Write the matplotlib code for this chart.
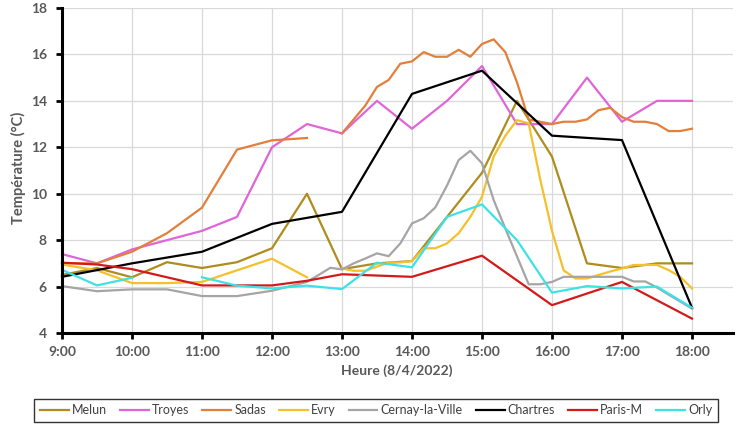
import numpy as np
import matplotlib
matplotlib.use("Agg")
import matplotlib.pyplot as plt

plt.rcParams['font.family'] = ['Lato', 'DejaVu Sans']

def hrs(lst):
    out = []
    for s in lst:
        h, m = s.split(':')
        out.append(int(h) + int(m) / 60.0)
    return np.array(out)

def t10(start, end):
    # list of "H:MM" strings every 10 minutes, inclusive
    res = []
    sh, sm = map(int, start.split(':'))
    eh, em = map(int, end.split(':'))
    a, b = sh * 60 + sm, eh * 60 + em
    for m in range(a, b + 1, 10):
        res.append(f"{m // 60}:{m % 60:02d}")
    return res

half = ["9:00", "9:30", "10:00", "10:30", "11:00", "11:30", "12:00", "12:30", "13:00",
        "13:30", "14:00", "14:30", "15:00", "15:30", "16:00", "16:30", "17:00", "17:30", "18:00"]
hourly = ["9:00", "10:00", "11:00", "12:00", "13:00", "14:00", "15:00", "16:00", "17:00", "18:00"]

# ---- Data ----
melun_t = half
melun_v = [6.5, 6.8, 6.4, 7.05, 6.8, 7.05, 7.65, 10.0, 6.75, 7.0, 7.1, 9.0, 10.9, 14.0,
           11.6, 7.0, 6.8, 7.0, 7.0]

troyes_t = half
troyes_v = [7.4, 7.0, 7.6, 8.0, 8.4, 9.0, 12.0, 13.0, 12.6, 14.0, 12.8, 14.0, 15.5, 13.0,
            13.0, 15.0, 13.1, 14.0, 14.0]

sadas_t = ["9:00", "9:30", "10:00", "10:30", "11:00", "11:30", "12:00", "12:30", "12:45"] + t10("13:00", "18:00")
sadas_v = [7.0, 7.0, 7.5, 8.3, 9.4, 11.9, 12.3, 12.4, np.nan,
           12.6, 13.2, 13.8, 14.6, 14.9, 15.6, 15.7, 16.1, 15.9, 15.9, 16.2, 15.9, 16.45,
           16.65, 16.1, 14.8, 13.2, 13.1, 13.0, 13.1, 13.1, 13.2, 13.6, 13.7, 13.3, 13.1,
           13.1, 13.0, 12.7, 12.7, 12.8]

evry_t = ["9:00", "9:30", "10:00", "10:30", "11:00", "12:00", "12:30", "12:45"] + t10("13:00", "18:00")
evry_v = [6.95, 6.7, 6.15, 6.15, 6.2, 7.2, 6.4, np.nan,
          6.78, 6.68, 6.68, 6.86, 7.03, 7.04, 7.1, 7.65, 7.65, 7.86, 8.3, 9.0, 9.87,
          11.6, 12.5, 13.17, 13.03, 10.6, 8.4, 6.7, 6.35, 6.35, 6.5, 6.65, 6.78, 6.93,
          6.93, 6.93, 6.71, 6.42, 5.92]

cernay_t = ["9:00", "9:30", "10:00", "10:30", "11:00", "11:30", "12:00", "12:30"] + t10("12:40", "18:00")
cernay_v = [6.02, 5.8, 5.88, 5.88, 5.59, 5.59, 5.82, 6.2,
            6.5, 6.81, 6.74, 7.0, 7.21, 7.43, 7.31, 7.86, 8.72, 8.94, 9.41, 10.35, 11.45,
            11.85, 11.31, 9.73, 8.5, 7.3, 6.1, 6.1, 6.2, 6.42, 6.42, 6.42, 6.42, 6.42, 6.42,
            6.22, 6.22, 5.96, 5.65, 5.35, 5.05]

chartres_t = hourly
chartres_v = [6.42, 7.0, 7.5, 8.7, 9.22, 14.3, 15.3, 12.5, 12.31, 5.09]

paris_t = ["9:00", "9:30", "10:00", "11:00", "12:00", "12:30", "13:00", "14:00", "15:00",
           "16:00", "17:00", "18:00"]
paris_v = [7.03, 6.95, 6.75, 6.05, 6.05, 6.25, 6.53, 6.42, 7.33, 5.2, 6.2, 4.62]

orly_t = ["9:00", "9:30", "10:00", "10:30", "11:00", "11:30", "12:00", "12:30", "13:00",
          "13:30", "14:00", "14:30", "15:00", "15:30", "16:00", "16:30", "17:00", "17:30", "18:00"]
orly_v = [6.72, 6.05, 6.38, np.nan, 6.4, 6.04, 5.92, 6.04, 5.89, 7.03, 6.83, 9.0, 9.54,
          8.0, 5.74, 6.02, 5.92, 6.0, 5.09]

names = ["Melun", "Troyes", "Sadas", "Evry", "Cernay-la-Ville", "Chartres", "Paris-M", "Orly"]
series = [(melun_t, melun_v), (troyes_t, troyes_v), (sadas_t, sadas_v), (evry_t, evry_v),
          (cernay_t, cernay_v), (chartres_t, chartres_v), (paris_t, paris_v), (orly_t, orly_v)]
colors = ["#AE8C1E", "#E065D8", "#E27F3A", "#F4C02C", "#A5A5A5", "#000000", "#D21A1A", "#3EE2E6"]

xtick_hours = hourly
ytick_vals = [4, 6, 8, 10, 12, 14, 16, 18]

# ---- Plot ----
fig = plt.figure(figsize=(7.51, 4.29), dpi=100)
ax = fig.add_axes([62 / 751, 1 - 333 / 429, (733 - 62) / 751, (333 - 8) / 429])

for (t, v), name, c in zip(series, names, colors):
    ax.plot(hrs(t), v, color=c, lw=1.6, label=name, solid_joinstyle='round', clip_on=False)

ax.set_xlim(9, 18.586)
ax.set_ylim(4, 18)
ax.set_xticks(hrs(xtick_hours))
ax.set_xticklabels(xtick_hours)
ax.set_yticks(ytick_vals)
ax.grid(True, color="#D9D9D9", lw=0.9)
ax.set_axisbelow(True)
for s in ["top", "right"]:
    ax.spines[s].set_visible(False)
for s in ["left", "bottom"]:
    ax.spines[s].set_linewidth(2.2)
    ax.spines[s].set_color("black")
    ax.spines[s].set_zorder(5)
ax.tick_params(axis='both', direction='out', length=4, width=2, color='black',
               labelsize=10, labelcolor="#595959")
ax.tick_params(axis='x', pad=5)
ax.tick_params(axis='y', pad=7)
for lab in ax.get_xticklabels() + ax.get_yticklabels():
    lab.set_fontweight('bold')

fig.text(18 / 751, 1 - 168 / 429, "Température (°C)", rotation=90, ha='center', va='center',
         fontsize=10.5, fontweight='bold', color="#595959")
fig.text(397 / 751, 1 - 371 / 429, "Heure (8/4/2022)", ha='center', va='center',
         fontsize=10, fontweight='bold', color="#595959")

leg = fig.legend(loc='center', bbox_to_anchor=(376 / 751, 1 - 410.5 / 429), ncol=8,
                 frameon=True, fancybox=False, edgecolor='black', fontsize=9,
                 handlelength=2.3, handletextpad=0.25, columnspacing=1.05,
                 borderpad=0.45, labelcolor="#404040")
leg.get_frame().set_linewidth(1.0)

fig.savefig("out.png", dpi=100)
